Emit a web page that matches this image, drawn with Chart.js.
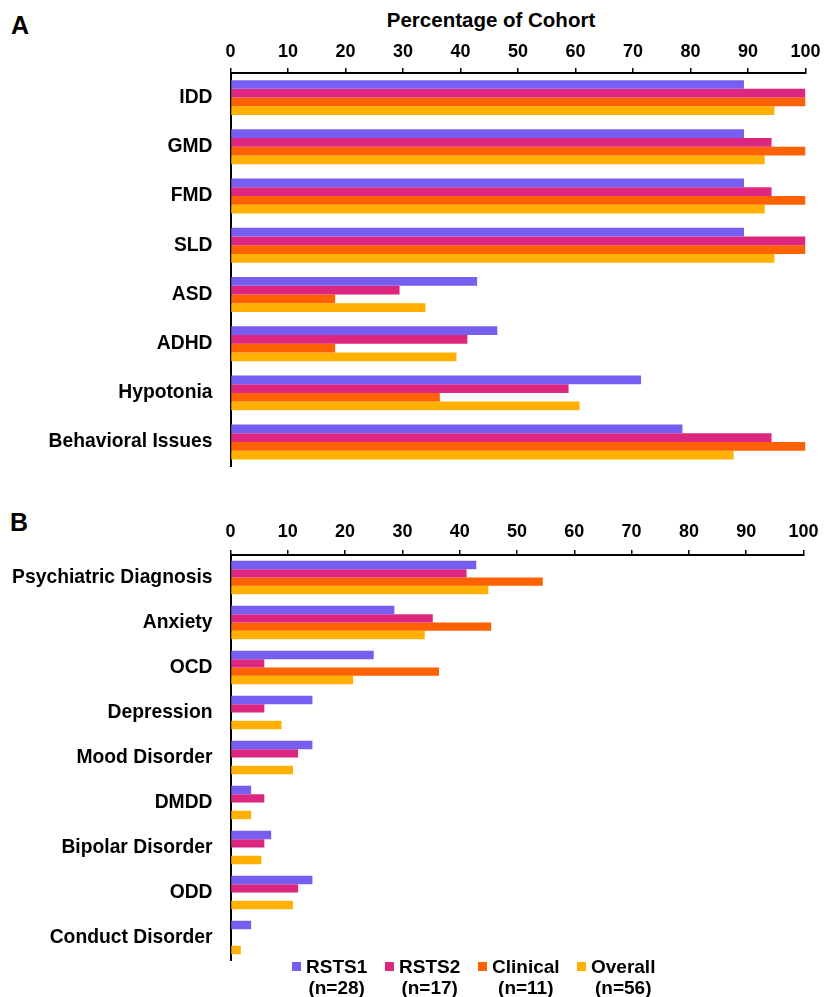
<!DOCTYPE html>
<html>
<head>
<meta charset="utf-8">
<script src="https://cdn.jsdelivr.net/npm/chart.js@4/dist/chart.umd.min.js"></script>
<style>
  html, body { margin: 0; padding: 0; background: #fff; }
  body { width: 826px; height: 997px; position: relative; overflow: hidden;
         font-family: "Liberation Sans", Arial, sans-serif; color: #000; }
  .abs { position: absolute; font-weight: bold; white-space: nowrap; }
  .panel { font-size: 25px; line-height: 28px; }
  #axisTitle { font-size: 20.5px; line-height: 24px; transform: translateX(-50%); }
  #wrapA { position: absolute; left: 0; top: 0; width: 826px; height: 500px; }
  #wrapB { position: absolute; left: 0; top: 500px; width: 826px; height: 497px; }
  .item { position: absolute; display: flex; align-items: flex-start; top: 955.5px; }
  .item .box { width: 9px; height: 9px; margin-top: 6px; margin-right: 5px; flex: none; }
  .item .txt { font-weight: bold; font-size: 19px; line-height: 21px; text-align: center; }
</style>
</head>
<body>
<div class="abs panel" style="left:11px;top:11px">A</div>
<div class="abs panel" style="left:10px;top:508px">B</div>
<div class="abs" id="axisTitle" style="left:491px;top:8px">Percentage of Cohort</div>
<div id="wrapA"><canvas id="chartA" width="826" height="500"></canvas></div>
<div id="wrapB"><canvas id="chartB" width="826" height="497"></canvas></div>
<div id="legend"></div>
<script>
// Series (percent of each cohort)
const seriesNames = ['RSTS1', 'RSTS2', 'Clinical', 'Overall'];
const seriesN = ['(n=28)', '(n=17)', '(n=11)', '(n=56)'];
const seriesColors = ['#785EF0', '#DC267F', '#FE6100', '#FFB000'];

// Panel A: developmental features
const catsA = ['IDD', 'GMD', 'FMD', 'SLD', 'ASD', 'ADHD', 'Hypotonia', 'Behavioral Issues'];
const rsts1A = [89.3, 89.3, 89.3, 89.3, 42.9, 46.4, 71.4, 78.6];
const rsts2A = [100, 94.1, 94.1, 100, 29.4, 41.2, 58.8, 94.1];
const clinicalA = [100, 100, 100, 100, 18.2, 18.2, 36.4, 100];
const overallA = [94.6, 92.9, 92.9, 94.6, 33.9, 39.3, 60.7, 87.5];

// Panel B: psychiatric features
const catsB = ['Psychiatric Diagnosis', 'Anxiety', 'OCD', 'Depression', 'Mood Disorder',
               'DMDD', 'Bipolar Disorder', 'ODD', 'Conduct Disorder'];
const rsts1B = [42.9, 28.6, 25.0, 14.3, 14.3, 3.6, 7.1, 14.3, 3.6];
const rsts2B = [41.2, 35.3, 5.9, 5.9, 11.8, 5.9, 5.9, 11.8, 0];
const clinicalB = [54.5, 45.5, 36.4, 0, 0, 0, 0, 0, 0];
const overallB = [45.0, 33.9, 21.4, 8.9, 10.9, 3.6, 5.4, 10.9, 1.8];

// X tick values
const xMin = 0, xMax = 100, xStep = 10;

const FONT = '"Liberation Sans", Arial, sans-serif';

function makeChart(id, cats, values, opts) {
  return new Chart(document.getElementById(id), {
    type: 'bar',
    data: {
      labels: cats,
      datasets: values.map((v, i) => ({
        label: seriesNames[i],
        data: v,
        backgroundColor: seriesColors[i],
        borderWidth: 0,
        barPercentage: 1.0,
        categoryPercentage: opts.catPct
      }))
    },
    options: {
      indexAxis: 'y',
      responsive: false,
      animation: false,
      events: [],
      layout: { padding: { top: 0, left: 0, right: 18.5, bottom: opts.padBottom } },
      plugins: { legend: { display: false }, tooltip: { enabled: false } },
      scales: {
        x: {
          position: 'top',
          min: xMin, max: xMax,
          afterFit: s => { s.height = opts.xHeight; },
          ticks: { stepSize: xStep, color: '#000', padding: opts.tickPad,
                   font: { family: FONT, size: 18, weight: 'bold' } },
          grid: { drawOnChartArea: false, drawTicks: true, tickLength: 5,
                  color: '#000', lineWidth: 1.5 },
          border: { display: true, color: '#000', width: 2 }
        },
        y: {
          afterFit: s => { s.width = 230.5; },
          ticks: { color: '#000', padding: 18,
                   font: { family: FONT, size: 19.3, weight: 'bold' } },
          grid: { display: false, drawTicks: false },
          border: { display: true, color: '#000', width: 2 }
        }
      }
    }
  });
}

makeChart('chartA', catsA, [rsts1A, rsts2A, clinicalA, overallA],
  { catPct: 0.71, xHeight: 73, tickPad: 5.5, padBottom: 33.3 });
makeChart('chartB', catsB, [rsts1B, rsts2B, clinicalB, overallB],
  { catPct: 0.74, xHeight: 55, tickPad: 7.5, padBottom: 37 });

// Two-line legend below panel B
const legendX = [292, 385, 478, 577];
const legend = document.getElementById('legend');
seriesNames.forEach((name, i) => {
  const item = document.createElement('div');
  item.className = 'item';
  item.style.left = legendX[i] + 'px';
  const box = document.createElement('span');
  box.className = 'box';
  box.style.background = seriesColors[i];
  const txt = document.createElement('div');
  txt.className = 'txt';
  txt.innerHTML = name + '<br>' + seriesN[i];
  item.appendChild(box);
  item.appendChild(txt);
  legend.appendChild(item);
});
</script>
</body>
</html>
